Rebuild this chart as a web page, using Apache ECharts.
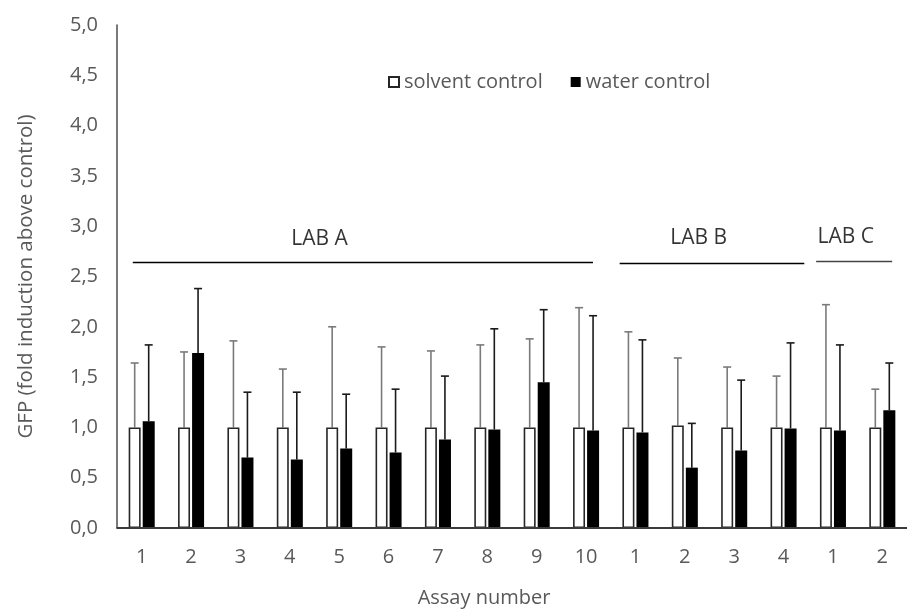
<!DOCTYPE html>
<html>
<head>
<meta charset="utf-8">
<script src="https://cdn.jsdelivr.net/npm/echarts@6/dist/echarts.min.js"></script>
<style>
  html, body { margin: 0; padding: 0; background: #fff; }
  #chart { width: 907px; height: 612px; }
</style>
</head>
<body>
<div id="chart"></div>
<script>
// Assay numbers along the x axis, grouped by laboratory
const assayLabels = ['1','2','3','4','5','6','7','8','9','10','1','2','3','4','1','2'];
const assayKeys = assayLabels.map((a, i) => i + ':' + a);

// Mean GFP fold induction
const solventMean = [1.00,1.00,1.00,1.00,1.00,1.00,1.00,1.00,1.00,1.00,1.00,1.02,1.00,1.00,1.00,1.00];
const waterMean   = [1.06,1.74,0.70,0.68,0.79,0.75,0.88,0.98,1.45,0.97,0.95,0.60,0.77,0.99,0.97,1.17];

// Top of the upper error bar (mean + SD)
const solventUpper = [1.64,1.75,1.86,1.58,2.00,1.80,1.76,1.82,1.88,2.19,1.95,1.69,1.60,1.51,2.22,1.38];
const waterUpper   = [1.82,2.38,1.35,1.35,1.33,1.38,1.51,1.98,2.17,2.11,1.87,1.04,1.47,1.84,1.82,1.64];

// y axis tick labels (0,0 ... 5,0)
const yTickLabels = ['0,0','0,5','1,0','1,5','2,0','2,5','3,0','3,5','4,0','4,5','5,0'];

// Laboratory brackets: name, span in category units, label position
const labNames  = ['LAB A', 'LAB B', 'LAB C'];
const labStart  = [-0.18, 9.68, 13.66];
const labEnd    = [9.14, 13.42, 15.2];
const labLevel  = [2.64, 2.63, 2.65];
const labTextX  = [3.6, 11.28, 14.26];
const labTextY  = [2.87, 2.88, 2.89];

// extent of the plotted category range on the helper value axis
const axisSpan = [-0.5, 15.5];

const FONT = 'Open Sans';
const BAR_W = 12;
const HALF_STEP = 7;   // distance from category centre to each bar centre

const chart = echarts.init(document.getElementById('chart'), null, { renderer: 'canvas' });

function errorBars(means, uppers, side, color) {
  return {
    type: 'custom',
    name: side < 0 ? 'solvent-err' : 'water-err',
    xAxisIndex: 0, yAxisIndex: 0,
    silent: true,
    z: 1,
    data: means.map((m, i) => [i, m, uppers[i]]),
    renderItem: function (params, api) {
      const base = api.coord([api.value(0), api.value(1)]);
      const top = api.coord([api.value(0), api.value(2)]);
      const x = base[0] + side * HALF_STEP;
      const cap = 4;
      const style = { stroke: color, lineWidth: 1.6 };
      return {
        type: 'group',
        children: [
          { type: 'line', shape: { x1: x, y1: base[1], x2: x, y2: top[1] }, style: style },
          { type: 'line', shape: { x1: x - cap, y1: top[1], x2: x + cap, y2: top[1] }, style: style }
        ]
      };
    }
  };
}

const labLineSeries = labNames.map((n, i) => ({
  type: 'line',
  name: 'bracket-' + i,
  xAxisIndex: 1, yAxisIndex: 0,
  data: [[labStart[i], labLevel[i]], [labEnd[i], labLevel[i]]],
  symbol: 'none',
  silent: true,
  lineStyle: { color: i === 2 ? '#444' : '#000', width: 1.5 },
  z: 1
}));

// horizontal baseline at value 0
const baselineSeries = {
  type: 'line',
  name: 'baseline',
  xAxisIndex: 1, yAxisIndex: 0,
  data: [[axisSpan[0], 0], [axisSpan[1], 0]],
  symbol: 'none',
  silent: true,
  clip: false,
  lineStyle: { color: '#3a3a3a', width: 1.8 },
  z: 5
};

const labTextSeries = {
  type: 'scatter',
  name: 'lab-labels',
  xAxisIndex: 1, yAxisIndex: 0,
  symbolSize: 0,
  silent: true,
  data: labNames.map((n, i) => ({ value: [labTextX[i], labTextY[i]], name: n })),
  label: {
    show: true,
    position: 'inside',
    formatter: p => p.name,
    color: '#000',
    fontFamily: FONT,
    fontSize: 21
  }
};

chart.setOption({
  animation: false,
  backgroundColor: '#fff',
  textStyle: { fontFamily: FONT },
  grid: { left: 117, top: 25, width: 800, height: 503, containLabel: false },
  legend: {
    left: 383, top: 67,
    itemWidth: 10, itemHeight: 10, itemGap: 28,
    icon: 'rect',
    data: ['solvent control', 'water control'],
    textStyle: { color: '#595959', fontFamily: FONT, fontSize: 20 }
  },
  xAxis: [{
    type: 'category',
    data: assayKeys,
    axisLine: { show: true, onZero: false, lineStyle: { color: '#3a3a3a', width: 1.5 } },
    axisTick: { show: false },
    axisLabel: {
      color: '#595959', fontFamily: FONT, fontSize: 20, margin: 19,
      formatter: (v, i) => assayLabels[i]
    }
  }, {
    type: 'value',
    min: axisSpan[0], max: axisSpan[1],
    position: 'top',
    show: false
  }],
  yAxis: {
    type: 'value',
    min: 0, max: 5, interval: 0.5,
    splitLine: { show: false },
    axisTick: { show: false },
    axisLine: { show: true, onZero: false, lineStyle: { color: '#4d4d4d', width: 1.5 } },
    axisLabel: {
      color: '#595959', fontFamily: FONT, fontSize: 20, margin: 19,
      formatter: v => yTickLabels[Math.round(v / 0.5)]
    },
    name: 'GFP (fold induction above control)',
    nameLocation: 'middle',
    nameGap: 80,
    nameTextStyle: { color: '#595959', fontFamily: FONT, fontSize: 20.5 }
  },
  graphic: [{
    type: 'text',
    x: 484, y: 598,
    style: {
      text: 'Assay number', fill: '#595959', font: '20px "Open Sans"',
      textAlign: 'center', textVerticalAlign: 'middle'
    }
  }],
  series: [
    {
      type: 'bar',
      name: 'solvent control',
      data: solventMean,
      barWidth: BAR_W,
      barGap: '17%',
      itemStyle: { color: '#ffffff', borderColor: '#262626', borderWidth: 1.6 },
      z: 2
    },
    {
      type: 'bar',
      name: 'water control',
      data: waterMean,
      barWidth: BAR_W,
      itemStyle: { color: '#000000' },
      z: 2
    },
    errorBars(solventMean, solventUpper, -1, '#7a7a7a'),
    errorBars(waterMean, waterUpper, 1, '#1a1a1a'),
    ...labLineSeries,
    baselineSeries,
    labTextSeries
  ]
});
</script>
</body>
</html>
